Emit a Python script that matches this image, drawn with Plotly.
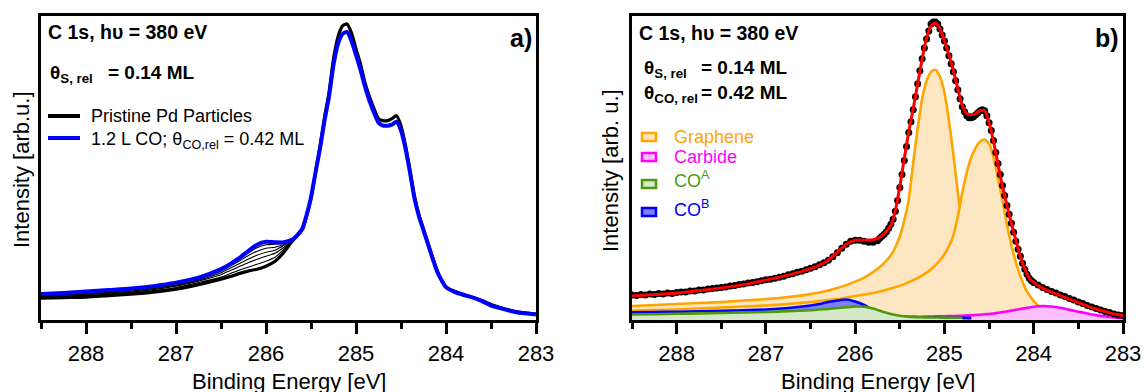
import numpy as np
import plotly.graph_objects as go

W, H = 1146, 392
FONT = "Liberation Sans, Arial, sans-serif"

# ---------------- data ----------------
energy_grid = [288.5, 288.25, 288.0, 287.75, 287.5, 287.25, 287.0, 286.75, 286.5, 286.4,
               286.3, 286.2, 286.1, 286.0, 285.9, 285.8, 285.7, 285.6, 285.55, 285.5,
               285.45, 285.4, 285.35, 285.3, 285.25, 285.2, 285.15, 285.1, 285.05, 285.0,
               284.95, 284.9, 284.85, 284.8, 284.75, 284.7, 284.65, 284.6, 284.55, 284.5,
               284.45, 284.4, 284.35, 284.3, 284.25, 284.2, 284.15, 284.1, 284.05, 284.0,
               283.9, 283.8, 283.7, 283.6, 283.5, 283.4, 283.3, 283.2, 283.1, 283.0]

# panel a : CO-dosed spectrum (blue)
co_dosed = [26, 27, 28.5, 30, 31.5, 34, 37.5, 42.5, 51, 56,
            62, 69, 75.5, 78.5, 78, 78, 81, 91, 105, 123,
            148, 172, 200, 224, 256, 277, 287, 289, 280, 266,
            251, 234, 220, 208, 198, 195, 195, 196, 199, 190,
            172, 148, 122, 104, 90, 76, 62, 49, 40, 33,
            28, 25, 22.5, 19, 14.5, 12, 9.5, 7.5, 6.5, 5.5]

# panel a : spectra series (black), high-BE part (288.5 ... 285.7 eV) differs
pristine_left = [
    [22, 22.5, 23, 24.5, 26, 28, 31, 35.5, 41, 43.5, 46.5, 49, 51, 54, 59, 68, 80],
    [22.5, 23, 23.5, 25, 27, 29.5, 32.5, 37.5, 43, 46.5, 50, 53, 56, 59, 63, 71, 80.5],
    [23, 23.5, 24.5, 26, 28, 30.5, 34, 39, 45.5, 49.5, 53.5, 57.5, 61, 64, 67, 73, 80.5],
    [23.5, 24, 25, 27, 29, 31.5, 35, 40, 47.5, 52, 56.5, 61, 65, 68, 70, 75, 81],
    [24, 25, 26, 27.5, 30, 32.5, 36, 41, 49, 54, 59, 64.5, 69, 72, 73, 76, 81],
    [24.5, 25.5, 26.5, 28.5, 30.5, 33, 36.5, 42, 50, 55, 60.5, 67, 72.5, 75.5, 76, 77, 81],
    [25, 26, 27.5, 29, 31, 33.5, 37, 42.5, 50.5, 55.5, 61.5, 68.5, 75, 78, 77.5, 77.5, 81],
]
# common low-BE part (285.6 ... 283.0 eV) of the black spectra
pristine_right = [90, 104, 122, 148, 174, 203, 228, 262, 284, 295,
                  297, 288, 272, 257, 238, 224, 212, 202, 200, 200,
                  202, 205, 195, 175, 150, 124, 105, 91, 77, 63,
                  50, 40, 33, 28.5, 25.5, 22.5, 19.5, 15.5, 12.5, 10,
                  8, 7, 6]

# panel b : measured points
meas_high = [25, 24.5, 25.5, 25, 26, 25.5, 26.5, 26, 27, 26.5,
             27.5, 28, 28, 29, 29, 30, 30, 31, 31.5, 32,
             32.5, 33, 34, 34.5, 35.5, 36, 37, 37.5, 38.5, 39.5,
             40.5, 41, 42, 43, 44, 45.5, 46.5, 48, 49, 50.5,
             52, 53.5, 55.5, 57.5, 60, 63.5, 67.5, 72, 76, 79,
             80, 80, 79, 78, 78, 79.5]                      # 288.50 ... 285.75, 0.05 eV
meas_peak = [82, 84, 86, 88.5, 92, 96, 101, 109, 120, 133,
             146, 160, 174, 188, 199, 211, 224, 237, 250, 262,
             273, 282, 290, 297, 299, 299, 297, 292, 286, 280,
             273, 265, 257, 249, 240, 231, 222, 214, 209, 205,
             203, 203, 204, 206, 208, 210, 211, 210, 205, 198,
             190, 180, 168, 157, 146, 135, 125, 115, 106, 97,
             88, 79, 71, 64, 57, 51, 46, 42, 39.5, 37.5]    # 285.725 ... 284.000, 0.025 eV
meas_low = [35, 32.5, 30.5, 28.5, 27, 25, 23.5, 21.5, 20, 18,
            16.5, 14.5, 13, 11.5, 10, 8.5, 7.5, 6, 5, 4.5]   # 283.95 ... 283.00, 0.05 eV

meas_E = np.concatenate([
    np.round(288.5 - 0.05 * np.arange(len(meas_high)), 3),
    np.round(285.725 - 0.025 * np.arange(len(meas_peak)), 3),
    np.round(283.95 - 0.05 * np.arange(len(meas_low)), 3),
])
meas_I = meas_high + meas_peak + meas_low

# panel b : fit envelope and components
fit_envelope = [24, 25.5, 27, 29.5, 32, 35.5, 40, 45, 51.5, 55,
                60, 68, 76, 80, 80, 80.5, 84.5, 95, 110, 134,
                162, 189, 212, 237, 262, 283, 295, 298, 292, 280,
                266, 250, 232, 215, 207, 206, 207, 210, 210, 198,
                179, 156, 134, 115, 97, 80, 64, 51, 42, 37.5,
                32, 28, 24.5, 21, 17.5, 14, 11, 8.5, 6, 4.5]
graphene_1 = [14, 15, 16, 17, 18, 19.5, 21, 23, 26, 27.5,
              29.5, 32, 35, 38.5, 42.5, 48, 55, 65, 73, 84,
              100, 121, 158, 192, 222, 240, 249, 251, 244, 228,
              200, 166, 128, 95, 70, 51, 38, 29, 22, 17,
              13, 10, 8, 6.5, 5.5, 4.5, 4, 3.5, 3, 3,
              2.5, 2, 2, 1.5, 1.5, 1, 1, 1, 1, 0.5]
graphene_2 = [9.5, 10, 10.5, 11.5, 12.5, 13.5, 14.5, 16, 18, 19,
              20, 21, 22.5, 24, 25.5, 27, 29, 31.5, 33, 34.5,
              36, 38, 40, 42, 44.5, 47.5, 51, 55, 60, 66,
              74, 85, 104, 128, 148, 163, 173, 179, 181, 177,
              163, 142, 120, 96, 75, 58, 44, 33, 25, 19,
              11, 7.5, 5.5, 4, 3, 2.5, 2, 1.5, 1.2, 1]
carbide = [1, 1, 1, 1, 1.2, 1.2, 1.4, 1.5, 1.7, 1.8,
           1.9, 2, 2.1, 2.2, 2.3, 2.4, 2.5, 2.6, 2.7, 2.8,
           2.9, 3, 3.1, 3.2, 3.3, 3.4, 3.5, 3.6, 3.7, 3.8,
           3.9, 4, 4.1, 4.3, 4.5, 4.7, 5, 5.3, 5.7, 6.1,
           6.6, 7.2, 7.9, 8.6, 9.4, 10.2, 11, 11.8, 12.6, 13.3,
           14, 13.6, 12.2, 10.3, 8.3, 6.5, 4.9, 3.6, 2.6, 1.9]
co_a = [5.5, 5.8, 6.2, 6.6, 7, 7.5, 8, 8.8, 9.8, 10.5,
        11.2, 12, 12.8, 13.5, 13.3, 11.5, 8.5, 6, 5, 4.2,
        3.7, 3.3, 3, 2.8, 2.7, 2.6, 2.5, 2.5, 2.4, 2.4,
        2.3, 2.3, 2.3, 2.2]
co_b = [7.7, 8, 8.3, 8.7, 9.2, 9.8, 10.5, 12, 14.5, 16,
        18, 19.5, 20.5, 18.5, 15, 10, 6.5, 4.5, 4, 3.5,
        3.2, 3, 2.9, 2.8, 2.7, 2.6, 2.5, 2.5, 2.4, 2.4,
        2.3, 2.3, 2.3, 2.2, 2.2, 2.1]

x_ticks = [288, 287, 286, 285, 284, 283]

# ---------------- helpers (layout positions in screen px) ----------------
def px(x):
    return x / W

def py(y):
    return 1 - y / H

ORANGE, ORANGE_F = "#FFA500", "rgb(253,231,194)"
MAGENTA, MAGENTA_F = "#FF00FF", "rgb(255,192,255)"
GREEN, GREEN_F = "#4C9A0C", "rgb(213,233,200)"
BLUE, BLUE_F = "#0000FF", "rgb(128,128,255)"

fig = go.Figure()

# ---------- panel a ----------
for i, left in enumerate(pristine_left):
    fig.add_trace(go.Scatter(
        x=energy_grid, y=left + pristine_right, mode="lines",
        line=dict(color="black", width=3.2 if i == 0 else 1.1, shape="spline", smoothing=0.6),
        name="Pristine Pd Particles", showlegend=False,
        xaxis="x", yaxis="y", hoverinfo="skip"))
fig.add_trace(go.Scatter(
    x=energy_grid, y=co_dosed, mode="lines",
    line=dict(color=BLUE, width=4, shape="spline", smoothing=0.6),
    name="1.2 L CO", showlegend=False,
    xaxis="x", yaxis="y", hoverinfo="skip"))

# ---------- panel b ----------
def comp(xs, ys, line, fill):
    fig.add_trace(go.Scatter(
        x=xs, y=ys, mode="lines", fill="tozeroy", fillcolor=fill,
        line=dict(color=line, width=2.6, shape="spline", smoothing=0.6),
        showlegend=False, xaxis="x2", yaxis="y2", hoverinfo="skip"))

comp(energy_grid, graphene_1, ORANGE, ORANGE_F)
comp(energy_grid, graphene_2, ORANGE, ORANGE_F)
comp(energy_grid, carbide, MAGENTA, MAGENTA_F)
comp(energy_grid[:len(co_b)], co_b, BLUE, BLUE_F)
comp(energy_grid[:len(co_a)], co_a, GREEN, GREEN_F)

fig.add_trace(go.Scatter(
    x=meas_E, y=meas_I, mode="markers",
    marker=dict(color="black", size=7, line=dict(width=0)),
    showlegend=False, xaxis="x2", yaxis="y2", hoverinfo="skip"))
fig.add_trace(go.Scatter(
    x=energy_grid, y=fit_envelope, mode="lines",
    line=dict(color="#FF0000", width=3, shape="spline", smoothing=0.6),
    showlegend=False, xaxis="x2", yaxis="y2", hoverinfo="skip"))

# ---------- axes ----------
ydom = [py(320), py(16)]
xcommon = dict(
    range=[288.5, 283], tickvals=x_ticks, ticks="outside", ticklen=11, tickwidth=2.5,
    tickcolor="black", showline=True, linewidth=3, linecolor="black", mirror=True,
    showgrid=False, zeroline=False, automargin=False,
    tickfont=dict(family=FONT, size=22, color="black"),
    minor=dict(dtick=0.5, tick0=283, ticks="outside", ticklen=6, tickwidth=2.5, tickcolor="black"),
    ticklabelstandoff=1,
)
ycommon = dict(
    range=[0, 305], showticklabels=False, ticks="", showline=True, linewidth=3,
    linecolor="black", mirror=True, showgrid=False, zeroline=False, domain=ydom,
    automargin=False,
)

fig.update_layout(
    width=W, height=H, autosize=False,
    margin=dict(l=0, r=0, t=0, b=0, pad=0, autoexpand=False),
    paper_bgcolor="white", plot_bgcolor="white",
    font=dict(family=FONT, color="black"),
    showlegend=False,
    xaxis=dict(domain=[px(41), px(536)], anchor="y", **xcommon),
    yaxis=dict(anchor="x", **ycommon),
    xaxis2=dict(domain=[px(632), px(1123)], anchor="y2", **xcommon),
    yaxis2=dict(anchor="x2", **ycommon),
)

ann = []
shapes = []

def text(x, y, s, size=18, xanchor="left", color="black", angle=0):
    ann.append(dict(x=px(x), y=py(y), xref="paper", yref="paper", text=s,
                    showarrow=False, xanchor=xanchor, yanchor="middle", textangle=angle,
                    font=dict(family=FONT, size=size, color=color)))

# panel a texts
text(46, 32, "<b>C 1s, hυ = 380 eV</b>", size=19.5)
text(48, 74, "<b>θ<sub>S, rel</sub></b>", size=19)
text(106, 72, "<b>= 0.14 ML</b>", size=19)
text(534, 38, "<b>a)</b>", size=25, xanchor="right")
text(21, 170, "Intensity [arb.u.]", size=22, xanchor="center", angle=-90)
text(288.5, 381, "Binding Energy [eV]", size=22, xanchor="center")

# panel a legend
legend_a = [("Pristine Pd Particles", "black", 116),
            ("1.2 L CO; θ<sub>CO,rel</sub> = 0.42 ML", BLUE, 138)]
for label, lc, yc in legend_a:
    shapes.append(dict(type="line", xref="paper", yref="paper",
                       x0=px(48), x1=px(80), y0=py(yc), y1=py(yc),
                       line=dict(color=lc, width=4)))
    text(89, yc if "sub" not in label else yc + 3, label, size=18)

# panel b texts
text(637, 33, "<b>C 1s, hυ = 380 eV</b>", size=19.5)
text(642, 69, "<b>θ<sub>S, rel</sub></b>", size=19)
text(699, 67, "<b>= 0.14 ML</b>", size=19)
text(642, 94, "<b>θ<sub>CO, rel</sub></b>", size=19)
text(699, 92, "<b>= 0.42 ML</b>", size=19)
text(1121, 38, "<b>b)</b>", size=25, xanchor="right")
text(610, 171, "Intensity [arb. u.]", size=22, xanchor="center", angle=-90)
text(878, 381, "Binding Energy [eV]", size=22, xanchor="center")

# panel b legend
legend_b = [("Graphene", ORANGE, ORANGE_F, 137),
            ("Carbide", MAGENTA, MAGENTA_F, 157),
            ("CO<sup>A</sup>", GREEN, GREEN_F, 184),
            ("CO<sup>B</sup>", BLUE, BLUE_F, 212)]
for label, lc, fc, yc in legend_b:
    shapes.append(dict(type="rect", xref="paper", yref="paper",
                       x0=px(642), x1=px(656), y0=py(yc - 4), y1=py(yc + 4),
                       line=dict(color=lc, width=2.5), fillcolor=fc))
    text(672, yc if "sup" not in label else yc - 4, label, color=lc)

fig.update_layout(annotations=ann, shapes=shapes)

page_fix = (
    "document.body.style.margin='0';"
    "document.documentElement.style.overflow='hidden';"
)
fig.write_html("out.html", config={"displayModeBar": False}, post_script=page_fix)
